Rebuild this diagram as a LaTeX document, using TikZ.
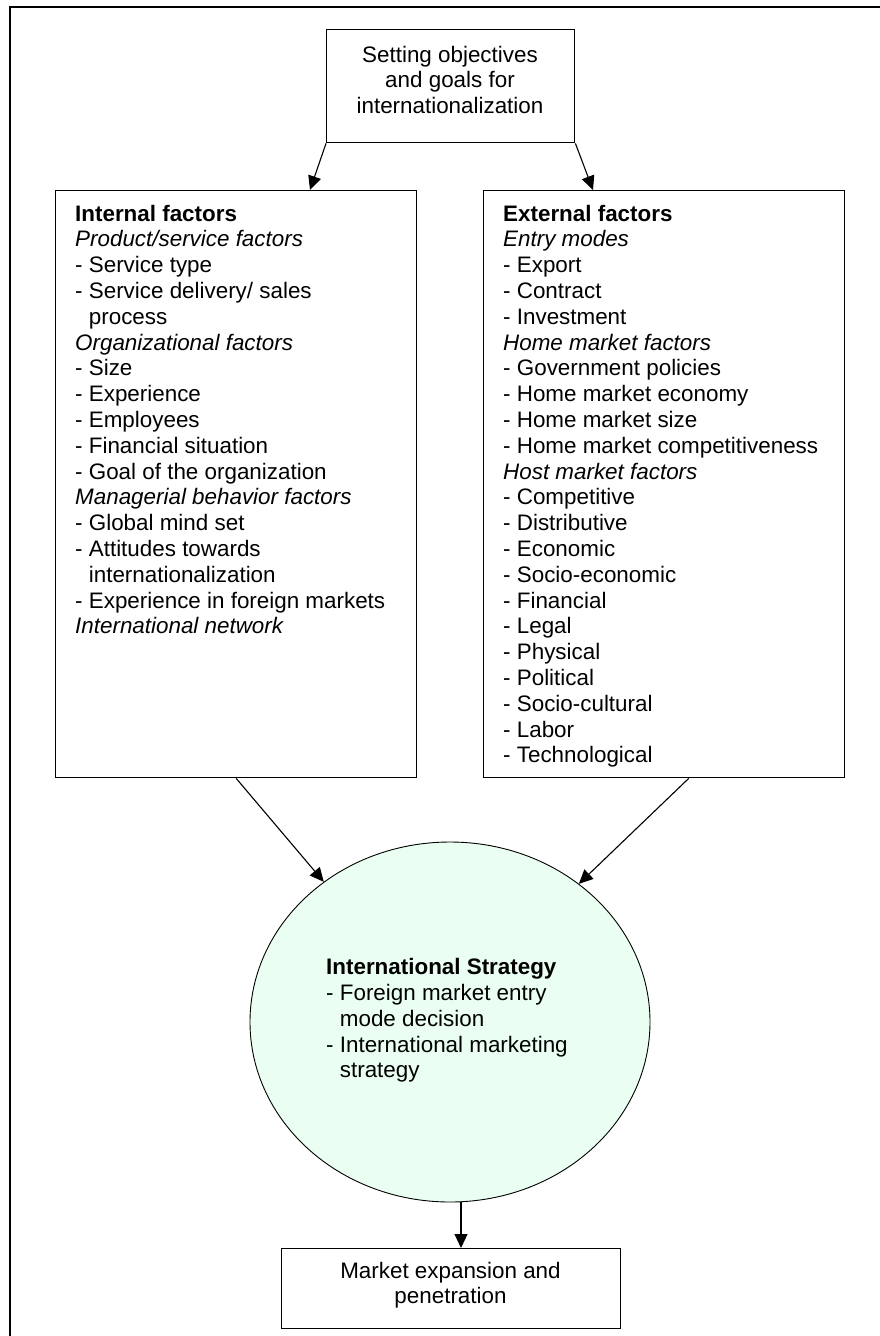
\documentclass[tikz,border=0pt]{standalone}
\usepackage{fontspec}
\setmainfont{Liberation Sans}
\usetikzlibrary{arrows.meta,shapes.geometric}
\definecolor{mint}{RGB}{234,255,242}
\begin{document}
\begin{tikzpicture}[x=1pt,y=-1pt,
  box/.style={draw, line width=1.4pt, inner sep=0pt},
  txt/.style={inner sep=0pt, align=left, font=\fontsize{22.4pt}{25.8pt}\selectfont},
  ctxt/.style={inner sep=0pt, align=center, font=\fontsize{22.4pt}{25.8pt}\selectfont},
  arr/.style={line width=1.1pt, -{Triangle[length=14pt,width=13pt]}}]
\useasboundingbox (0,0) rectangle (879,1336);
% outer frame (left and top edges)
\draw[line width=2pt] (10,1345) -- (10,6.5) -- (890,6.5);

% goal box
\node[box, minimum width=248pt, minimum height=113pt, anchor=north west] (goal) at (326,29) {};
\node[ctxt, anchor=north] (goaltxt) at (450,45.6)
  {Setting objectives\\and goals for\\internationalization};

% internal factors
\node[box, minimum width=361pt, minimum height=587pt, anchor=north west] (int) at (55,190) {};
\node[txt, anchor=north west] (inttxt) at (75,204.6) {%
\textbf{Internal factors}\\
\textit{Product/service factors}\\
- Service type\\
- Service delivery/ sales\\
\phantom{- }process\\
\textit{Organizational factors}\\
- Size\\
- Experience\\
- Employees\\
- Financial situation\\
- Goal of the organization\\
\textit{Managerial behavior factors}\\
- Global mind set\\
- Attitudes towards\\
\phantom{- }internationalization\\
- Experience in foreign markets\\
\textit{International network}};

% external factors
\node[box, minimum width=361pt, minimum height=587pt, anchor=north west] (ext) at (483,190) {};
\node[txt, anchor=north west] (exttxt) at (503,204.6) {%
\textbf{External factors}\\
\textit{Entry modes}\\
- Export\\
- Contract\\
- Investment\\
\textit{Home market factors}\\
- Government policies\\
- Home market economy\\
- Home market size\\
- Home market competitiveness\\
\textit{Host market factors}\\
- Competitive\\
- Distributive\\
- Economic\\
- Socio-economic\\
- Financial\\
- Legal\\
- Physical\\
- Political\\
- Socio-cultural\\
- Labor\\
- Technological};

% strategy ellipse
\node[draw, ellipse, fill=mint, line width=0.9pt, inner sep=0pt,
      minimum width=400pt, minimum height=360pt] (strat) at (450,1022) {};
\node[txt, anchor=north west] (strattxt) at (326,958.2) {%
\textbf{International Strategy}\\
- Foreign market entry\\
\phantom{- }mode decision\\
- International marketing\\
\phantom{- }strategy};

% outcome box
\node[box, minimum width=339pt, minimum height=80pt, anchor=north west] (mkt) at (281,1248) {};
\node[ctxt, anchor=north] (mkttxt) at (450.5,1261.6) {Market expansion and\\penetration};

% connectors
\draw[arr] (goal.south west) -- ([xshift=255pt]int.north west);
\draw[arr] (goal.south east) -- ([xshift=110pt]ext.north west);
\draw[arr] (int.south) -- (strat.132.8);
\draw[arr] ([xshift=24.5pt]ext.south) -- (strat.47.2);
\coordinate (sb) at ([xshift=11pt]strat.south);
\draw[arr] (sb) -- (sb |- mkt.north);
\end{tikzpicture}
\end{document}
